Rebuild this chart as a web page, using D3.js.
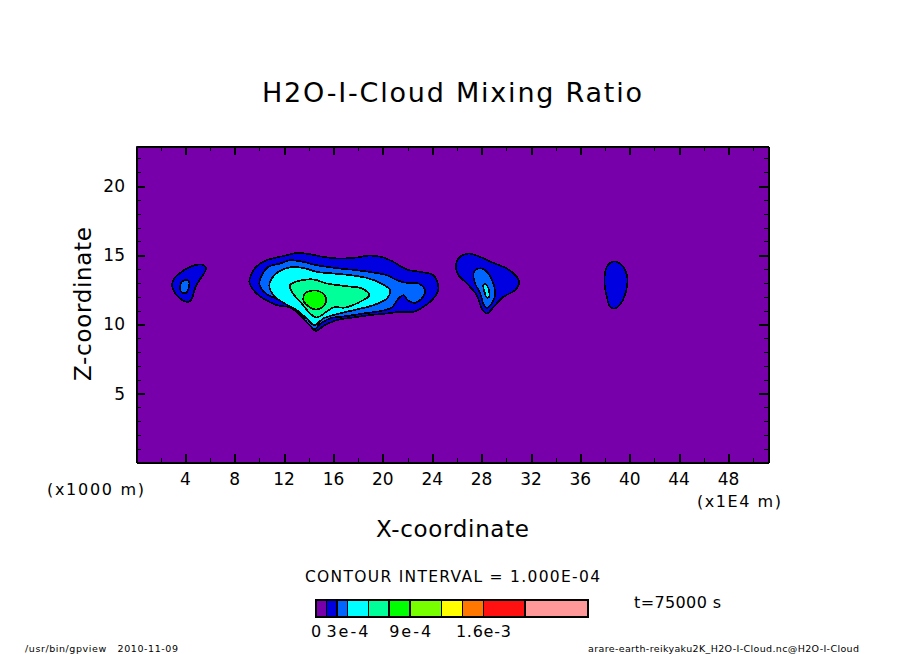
<!DOCTYPE html>
<html><head><meta charset="utf-8">
<script src="https://cdn.jsdelivr.net/npm/d3@7"></script>
<style>html,body{margin:0;padding:0;background:#fff}svg{display:block}text{font-family:"DejaVu Sans",sans-serif;fill:#000}</style>
</head><body><svg id="c" width="904" height="654"></svg>
<script>
const xMajor=[4,8,12,16,20,24,28,32,36,40,44,48];
const xMinor=[2,6,10,14,18,22,26,30,34,38,42,46,50];
const zMajor=[5,10,15,20];
const zMinor=[1,2,3,4,6,7,8,9,11,12,13,14,16,17,18,19,21,22];
const levels=[0,1e-4,2e-4,3e-4,5e-4,7e-4,9e-4,12e-4,14e-4,16e-4,20e-4,26e-4];
const colors=["#7800aa","#0000e1","#0066ff","#00ffff","#00ff99","#00ff00","#77ff00","#ffff00","#ff7700","#ff1111","#ff9999"];
const legendValues=[0,3e-4,9e-4,16e-4];
const legendLabels=["0","3e-4","9e-4","1.6e-3"];

const leftOuter=[[2.97,13.07],[3.16,13.39],[3.57,13.72],[4.11,14.04],[4.78,14.28],[5.32,14.33],[5.67,14.08],[5.51,13.68],[5.13,13.20],[4.78,12.60],[4.59,11.99],[4.38,11.68],[3.97,11.66],[3.51,11.92],[3.10,12.35],[2.94,12.76]];
const leftInner=[[3.57,12.71],[3.70,13.07],[4.03,13.22],[4.29,13.12],[4.29,12.71],[4.11,12.31],[3.83,12.26],[3.62,12.42]];
const mainL1=[[9.18,13.07],[9.38,13.68],[9.78,14.21],[10.59,14.64],[11.40,14.84],[12.21,15.00],[13.02,15.17],[14.10,15.07],[15.18,14.88],[16.53,14.76],[17.89,14.84],[18.96,14.98],[20.04,14.84],[20.85,14.52],[21.94,13.97],[23.01,13.80],[24.09,13.56],[24.50,12.60],[24.09,11.87],[23.28,11.27],[22.47,10.91],[21.39,10.91],[20.32,10.79],[18.96,10.67],[17.61,10.50],[16.26,10.31],[15.32,9.95],[14.51,9.53],[14.10,9.95],[13.29,10.67],[12.48,11.22],[11.40,11.39],[10.32,11.87],[9.64,12.35]];
const mainL2=[[9.99,12.96],[10.19,13.56],[10.72,14.16],[11.67,14.40],[12.48,14.64],[13.56,14.52],[14.64,14.28],[16.53,14.04],[17.89,13.92],[19.23,13.75],[20.32,13.56],[21.13,13.20],[21.94,13.00],[22.88,12.96],[23.42,12.47],[23.15,11.87],[22.61,11.56],[22.07,11.70],[21.66,12.11],[21.26,11.87],[20.72,11.22],[19.77,10.96],[18.42,10.79],[17.07,10.60],[15.72,10.43],[14.91,10.02],[14.45,9.66],[13.83,10.18],[13.02,10.91],[12.48,11.32],[11.67,11.75],[10.72,12.11],[10.19,12.52]];
const mainL3=[[10.80,12.84],[11.00,13.32],[11.53,13.80],[12.48,14.13],[13.56,14.08],[14.64,13.80],[15.99,13.68],[17.34,13.56],[18.70,13.36],[19.77,13.00],[20.58,12.47],[20.32,11.87],[19.23,11.39],[17.89,11.08],[16.26,10.74],[15.18,10.43],[14.45,9.95],[13.83,10.43],[13.02,11.03],[11.94,11.57],[11.13,12.11]];
const mainL4=[[12.48,12.84],[12.88,13.07],[14.37,13.25],[15.45,12.96],[17.07,12.76],[18.29,12.60],[18.91,12.11],[18.29,11.70],[16.94,11.22],[15.99,11.22],[14.64,10.50],[14.10,10.79],[13.43,11.51],[12.62,12.35]];
const mainL5=[[13.56,11.99],[13.70,12.24],[14.10,12.42],[14.77,12.42],[15.32,12.06],[15.40,11.63],[15.05,11.22],[14.51,11.08],[13.96,11.32],[13.61,11.63]];
const rightL1=[[25.93,14.04],[26.12,14.76],[26.93,15.12],[27.74,14.93],[28.95,14.45],[30.04,14.04],[30.85,13.43],[31.04,12.96],[30.71,12.47],[29.76,11.99],[29.09,11.39],[28.42,10.79],[28.01,11.15],[27.61,12.11],[26.80,12.96],[26.12,13.56]];
const rightL2=[[27.33,13.56],[27.47,13.92],[28.01,14.04],[28.55,13.68],[28.95,12.96],[29.09,12.11],[28.82,11.51],[28.42,11.20],[28.14,11.51],[27.88,12.24],[27.47,12.96]];
const rightL3=[[28.14,12.84],[28.34,12.89],[28.55,12.60],[28.61,11.99],[28.42,11.95],[28.23,12.35]];
const farL1=[[37.95,13.20],[38.14,14.16],[38.68,14.55],[39.22,14.40],[39.77,13.56],[39.77,12.71],[39.36,11.63],[38.82,11.15],[38.41,11.27],[38.14,11.99]];
const regions=[[leftOuter,1],[leftInner,2],[mainL1,1],[mainL2,2],[mainL3,3],[mainL4,4],[mainL5,5],[rightL1,1],[rightL2,2],[rightL3,3],[farL1,1]];

const svg=d3.select("#c");
const L=136,R=768,T=146,B=462.7;
const x=d3.scaleLinear().domain([0,51.2]).range([L,R]);
const z=d3.scaleLinear().domain([0,22.9]).range([B,T]);

svg.append("rect").attr("x",L).attr("y",T).attr("width",R-L).attr("height",B-T).attr("fill",colors[0]);
const line=d3.line().x(d=>x(d[0])).y(d=>z(d[1])).curve(d3.curveCatmullRomClosed.alpha(0.5));
svg.append("g").attr("shape-rendering","crispEdges").selectAll("path").data(regions).join("path")
  .attr("d",d=>line(d[0])).attr("fill",d=>colors[d[1]])
  .attr("stroke","#000").attr("stroke-width",1.7).attr("stroke-linejoin","round");

function ax(gen,vals,size,tx,ty){
  const g=svg.append("g").attr("transform",`translate(${tx},${ty})`).attr("shape-rendering","crispEdges")
    .call(gen.tickValues(vals).tickSize(size).tickSizeOuter(0).tickFormat(""));
  g.selectAll("path").attr("stroke","#000").attr("stroke-width",2).attr("fill","none");
  g.selectAll("line").attr("stroke","#000").attr("stroke-width",vals===xMajor||vals===zMajor?2:1);
  g.selectAll("text").remove();
}
[[xMajor,9],[xMinor,4.5]].forEach(([v,s])=>{
  ax(d3.axisBottom(x),v,-s,0,B);
  ax(d3.axisTop(x),v,-s,0,T);
});
[[zMajor,9],[zMinor,4.5]].forEach(([v,s])=>{
  ax(d3.axisLeft(z),v,-s,L,0);
  ax(d3.axisRight(z),v,-s,R,0);
});

function label(s,xp,yp,size,len,rot){
  const t=svg.append("text").text(s).attr("font-size",size);
  if(rot){t.attr("transform",`translate(${xp},${yp}) rotate(-90)`);}
  else{t.attr("x",xp).attr("y",yp);}
  if(len)t.attr("textLength",len).attr("lengthAdjust","spacing");
  return t;
}
svg.append("g").selectAll("text").data(xMajor).join("text")
  .attr("x",d=>x(d)).attr("y",485).attr("text-anchor","middle").attr("font-size",17).text(d=>d);
svg.append("g").selectAll("text").data(zMajor).join("text")
  .attr("x",125).attr("y",d=>z(d)+6).attr("text-anchor","end").attr("font-size",17).text(d=>d);

label("H2O-I-Cloud Mixing Ratio",262,102,27,380);
label("X-coordinate",376,537,23,153);
label("Z-coordinate",91,381,23,154,true);
label("(x1000 m)",47,495,16,97);
label("(x1E4 m)",697,507,16,84);
label("CONTOUR INTERVAL = 1.000E-04",305,582,15.5,295);
label("t=75000 s",634,608,16,87);
label("/usr/bin/gpview   2010-11-09",25,652,9.5,153).style("white-space","pre");
label("arare-earth-reikyaku2K_H2O-I-Cloud.nc@H2O-I-Cloud",588,652,9.5,271);

const lg=d3.scaleLinear().domain([0,26e-4]).range([316,588]);
const cells=colors.map((c,i)=>({a:levels[i],b:levels[i+1],c}));
svg.append("g").attr("shape-rendering","crispEdges").selectAll("rect").data(cells).join("rect")
  .attr("x",d=>lg(d.a)).attr("y",599.5).attr("width",d=>lg(d.b)-lg(d.a)).attr("height",17)
  .attr("fill",d=>d.c).attr("stroke","#000").attr("stroke-width",1.6);
svg.append("rect").attr("x",316).attr("y",599.5).attr("width",272).attr("height",17).attr("shape-rendering","crispEdges")
  .attr("fill","none").attr("stroke","#000").attr("stroke-width",2);
const lgLen=[0,42,42,55];
legendValues.forEach((v,i)=>{
  const t=svg.append("text").attr("x",lg(v)).attr("y",637).attr("text-anchor","middle")
    .attr("font-size",16).text(legendLabels[i]);
  if(lgLen[i])t.attr("textLength",lgLen[i]).attr("lengthAdjust","spacing");
});
</script></body></html>
